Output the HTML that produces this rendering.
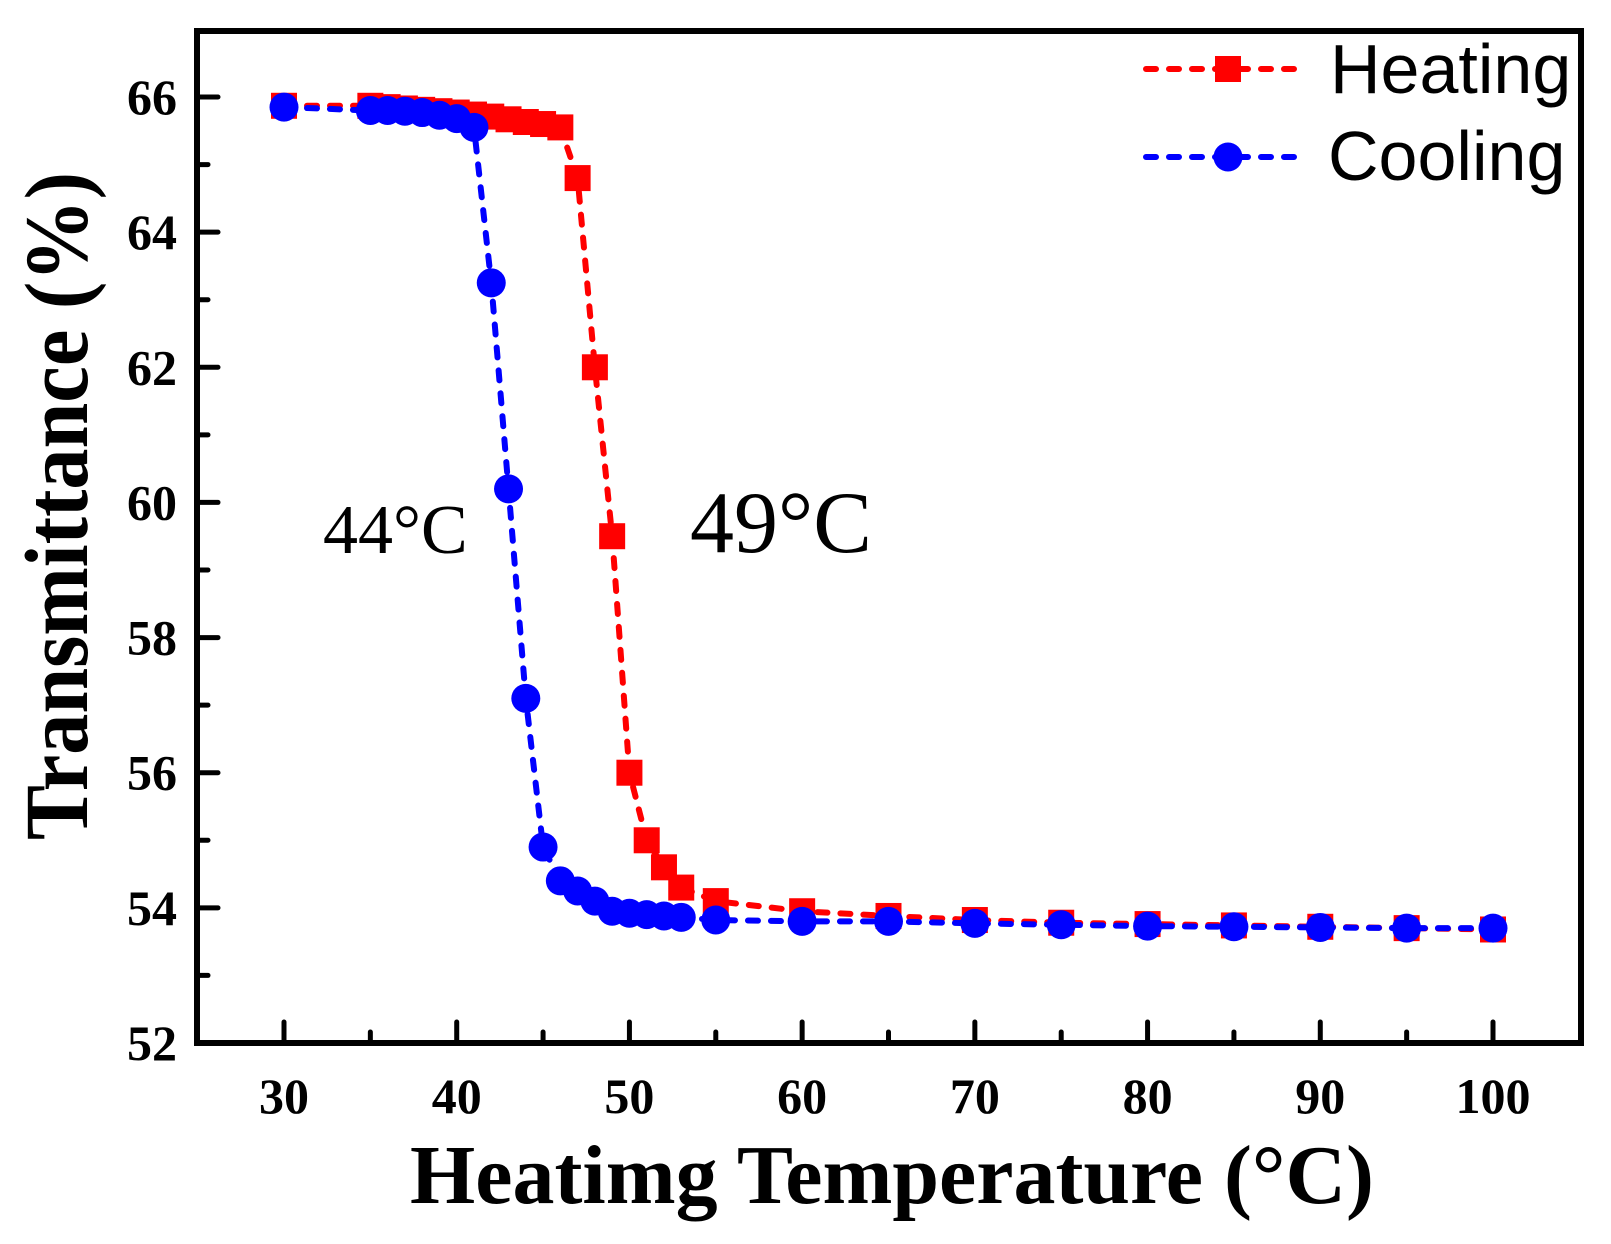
<!DOCTYPE html>
<html><head><meta charset="utf-8"><style>
html,body{margin:0;padding:0;background:#fff;}
svg{display:block;}
text{font-family:"Liberation Serif",serif;}
</style></head><body>
<svg id="chart" width="1611" height="1244" viewBox="0 0 1611 1244" xmlns="http://www.w3.org/2000/svg">
<g id="grid"></g>
<g id="series"></g>
<rect x="197" y="31" width="1384" height="1012" fill="none" stroke="#000" stroke-width="6"/>
<g id="ticks"></g>
<text x="892" y="1203" text-anchor="middle" font-weight="bold" font-size="84" textLength="964" lengthAdjust="spacingAndGlyphs">Heatimg Temperature (°C)</text>
<text transform="translate(87,506) rotate(-90)" text-anchor="middle" font-weight="bold" font-size="90" textLength="668" lengthAdjust="spacingAndGlyphs">Transmittance (%)</text>
<text x="323" y="553" font-size="70">44°C</text>
<text x="690" y="552" font-size="88">49°C</text>
<g>
<line x1="1146" y1="69" x2="1296" y2="69" stroke="#f00" stroke-width="6" stroke-dasharray="10 13" stroke-linecap="round"/>
<rect x="1215" y="56" width="26" height="26" fill="#f00"/>
<text x="1330" y="93" font-size="70" style="font-family:'Liberation Sans',sans-serif">Heating</text>
<line x1="1146" y1="157" x2="1296" y2="157" stroke="#00f" stroke-width="6" stroke-dasharray="10 13" stroke-linecap="round"/>
<circle cx="1228" cy="157" r="14.5" fill="#00f"/>
<text x="1328" y="180" font-size="70" style="font-family:'Liberation Sans',sans-serif">Cooling</text>
</g>
</svg>
<script>
const heatX=[30,35,36,37,38,39,40,41,42,43,44,45,46,47,48,49,50,51,52,53,55,60,65,70,75,80,85,90,95,100];
const heatY=[65.87,65.87,65.85,65.83,65.81,65.79,65.77,65.74,65.71,65.67,65.63,65.6,65.55,64.8,62.0,59.5,56.0,55.0,54.6,54.3,54.1,53.95,53.88,53.82,53.78,53.76,53.74,53.72,53.7,53.68];
const coolX=[30,35,36,37,38,39,40,41,42,43,44,45,46,47,48,49,50,51,52,53,55,60,65,70,75,80,85,90,95,100];
const coolY=[65.85,65.8,65.8,65.79,65.77,65.73,65.68,65.55,63.25,60.2,57.1,54.9,54.4,54.25,54.1,53.95,53.92,53.9,53.88,53.86,53.82,53.8,53.8,53.77,53.75,53.73,53.72,53.71,53.7,53.7];
const xTicks=[30,40,50,60,70,80,90,100];
const yTicks=[52,54,56,58,60,62,64,66];
const NS="http://www.w3.org/2000/svg";
const xs=v=>284+(v-30)*(1493-284)/70;
const ys=v=>1043-(v-52)*(1043-97)/14;
function mk(t,a,p){const e=document.createElementNS(NS,t);for(const k in a)e.setAttribute(k,a[k]);p.appendChild(e);return e;}
const ticks=document.getElementById('ticks');
xTicks.forEach(v=>{
 const l=mk('line',{x1:xs(v),x2:xs(v),y1:1043,y2:1022,stroke:'#000','stroke-width':5,'stroke-linecap':'round'},ticks);
 
 
 const t=mk('text',{x:xs(v),y:1113,'text-anchor':'middle','font-weight':'bold','font-size':50},ticks);
 t.textContent=v;
 
 
 if(v<100){const m=mk('line',{x1:xs(v+5),x2:xs(v+5),y1:1043,y2:1032,stroke:'#000','stroke-width':5,'stroke-linecap':'round'},ticks);
 
 }
});
yTicks.forEach(v=>{
 const l=mk('line',{x1:197,x2:218,y1:ys(v),y2:ys(v),stroke:'#000','stroke-width':5,'stroke-linecap':'round'},ticks);
 
 
 const t=mk('text',{x:177,y:ys(v)+17,'text-anchor':'end','font-weight':'bold','font-size':50},ticks);
 t.textContent=v;
 
 
 if(v<66){const m=mk('line',{x1:197,x2:208,y1:ys(v+1),y2:ys(v+1),stroke:'#000','stroke-width':5,'stroke-linecap':'round'},ticks);
 
 }
});
const S=document.getElementById('series');
function series(X,Y,col,name,sq){
 const pts=X.map((x,i)=>xs(x)+','+ys(Y[i])).join(' ');
 const pl=mk('polyline',{points:pts,fill:'none',stroke:col,'stroke-width':6,'stroke-dasharray':'10 13','stroke-linecap':'round'},S);
 
 
 X.forEach((x,i)=>{
  let e;
  if(sq) e=mk('rect',{x:xs(x)-13,y:ys(Y[i])-13,width:26,height:26,fill:col},S);
  else e=mk('circle',{cx:xs(x),cy:ys(Y[i]),r:14.5,fill:col},S);
  
  
 });
}
series(heatX,heatY,'#f00','heating',true);
series(coolX,coolY,'#00f','cooling',false);
</script>
</body></html>
